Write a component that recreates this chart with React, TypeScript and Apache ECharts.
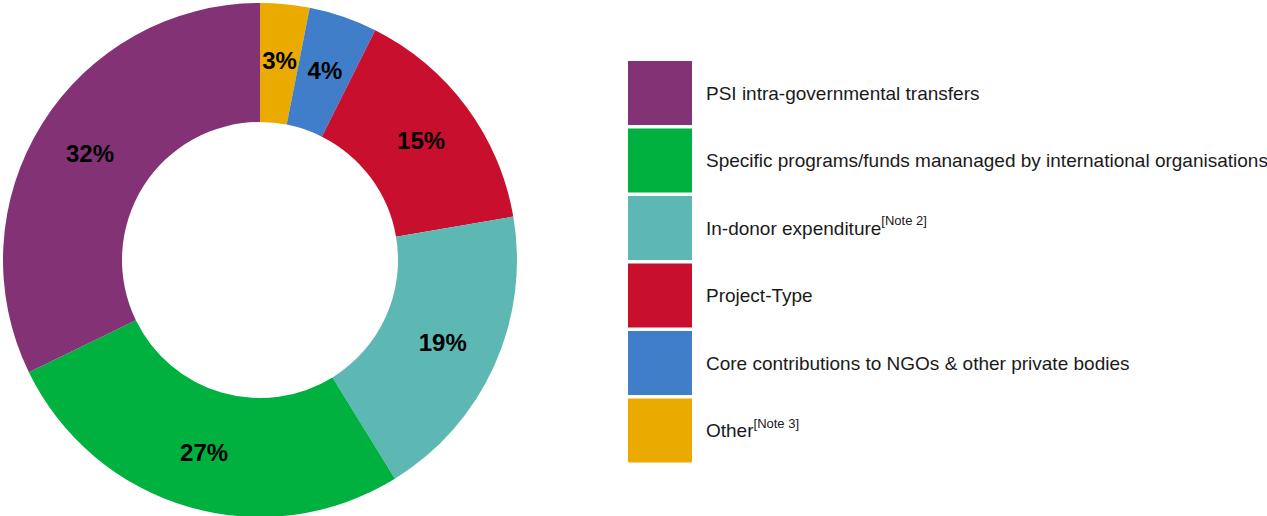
import React, { useEffect, useRef } from "react";
import * as echarts from "echarts";

// Slices clockwise from 12 o'clock (percent shares)
const categories = [
  "Other",
  "Core contributions to NGOs & other private bodies",
  "Project-Type",
  "In-donor expenditure",
  "Specific programs/funds mananaged by international organisations",
  "PSI intra-governmental transfers",
];
const values = [3.1, 4.3, 14.9, 18.9, 26.6, 32.2];
const colors = ["#EAAA00", "#407EC9", "#C8102E", "#5DB8B4", "#00B140", "#833275"];
const notes: Record<string, string> = {
  "In-donor expenditure": "[Note 2]",
  Other: "[Note 3]",
};
const legendOrder = [
  "PSI intra-governmental transfers",
  "Specific programs/funds mananaged by international organisations",
  "In-donor expenditure",
  "Project-Type",
  "Core contributions to NGOs & other private bodies",
  "Other",
];

const FONT = "'Liberation Sans', Arial, sans-serif";

export default function App() {
  const ref = useRef<HTMLDivElement>(null);
  useEffect(() => {
    if (!ref.current) return;
    const chart = echarts.init(ref.current, null, { renderer: "svg" });
    chart.setOption({
      animation: false,
      backgroundColor: "#ffffff",
      textStyle: { fontFamily: FONT },
      legend: {
        orient: "vertical",
        left: 628,
        top: 61,
        padding: 0,
        itemWidth: 64,
        itemHeight: 64,
        itemGap: 3.5,
        icon: "rect",
        selectedMode: false,
        data: legendOrder,
        formatter: (name: string) =>
          notes[name] ? `{n|${name}}{s|${notes[name]}}` : `{n|${name}}`,
        textStyle: {
          fontFamily: FONT,
          color: "#1a1a1a",
          fontSize: 19,
          padding: [0, 0, 0, 9],
          rich: {
            n: { fontFamily: FONT, fontSize: 19, color: "#1a1a1a", lineHeight: 28, verticalAlign: "middle" },
            s: { fontFamily: FONT, fontSize: 13, color: "#1a1a1a", lineHeight: 13, verticalAlign: "top" },
          },
        },
      },
      series: [
        {
          type: "pie",
          center: [260, 260],
          radius: [138, 257],
          startAngle: 90,
          clockwise: true,
          avoidLabelOverlap: false,
          itemStyle: { borderWidth: 0 },
          label: {
            show: true,
            position: "inside",
            formatter: (p: any) => `${Math.round(p.value)}%`,
            fontFamily: FONT,
            fontSize: 24,
            fontWeight: "bold",
            color: "#000000",
          },
          labelLine: { show: false },
          emphasis: { disabled: true },
          data: categories.map((name, i) => ({
            name,
            value: values[i],
            itemStyle: { color: colors[i] },
          })),
        },
      ],
    });
    return () => chart.dispose();
  }, []);
  return (
    <div
      ref={ref}
      style={{ position: "fixed", left: 0, top: 0, width: 1267, height: 516 }}
    />
  );
}
